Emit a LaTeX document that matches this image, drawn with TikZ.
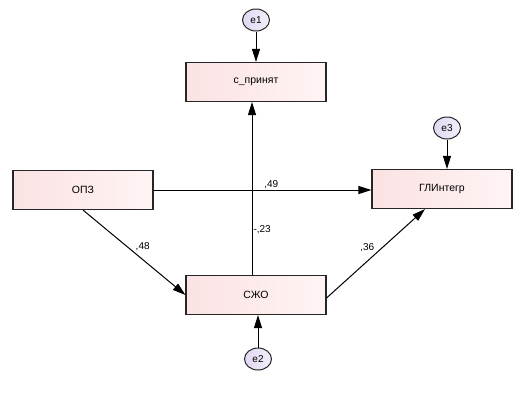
\documentclass[tikz,border=0pt]{standalone}
\usepackage{fontspec}
\setmainfont{Liberation Sans}
\usetikzlibrary{arrows.meta,calc,shapes.geometric}
\definecolor{boxl}{HTML}{FBE2E3}
\definecolor{boxr}{HTML}{FFF4F4}
\definecolor{errl}{HTML}{E2D8F2}
\definecolor{errr}{HTML}{F2EEFA}
\begin{document}
\begin{tikzpicture}[x=1pt,y=-1pt,
  varbox/.style={draw=black!85,line width=1.1pt,left color=boxl,right color=boxr,
    minimum width=140pt,minimum height=39pt,inner sep=0pt,font=\fontsize{10.5}{12}\selectfont},
  errnode/.style={draw=black!85,line width=1pt,ellipse,left color=errl,right color=errr,
    minimum width=27pt,minimum height=22pt,inner sep=0pt,font=\fontsize{10}{12}\selectfont},
  sempath/.style={draw=black,line width=1pt,-{Triangle[length=13pt,width=8pt]}},
  coef/.style={font=\fontsize{10}{12}\selectfont,inner sep=1pt}]
\useasboundingbox (0,0) rectangle (520,400);
\node[varbox] (c) at (256,82) {с\_принят};
\node[errnode] (e1) at (256,20) {e1};
\node[varbox] (o) at (83,190) {ОПЗ};
\node[varbox] (s) at (256,295) {СЖО};
\node[errnode] (e2) at (258,359) {e2};
\node[varbox] (g) at (442,189) {ГЛИнтегр};
\node[errnode] (e3) at (447,128) {e3};
\draw[sempath] (e1) -- (c);
\draw[sempath] (e3) -- (e3 |- g.north);
\draw[sempath] (e2) -- (e2 |- s.south);
\draw[sempath] ([xshift=-4pt]s.north) -- node[coef,pos=0.26,anchor=west]{-,23} ([xshift=-4pt]c.south);
\draw[sempath] (o.east) -- node[coef,pos=0.54,above]{,49} (o.east -| g.west);
\draw[sempath] (o.south) -- node[coef,pos=0.5,anchor=south west]{,48} (s.west);
\draw[sempath] ([yshift=-3pt]s.east) -- node[coef,pos=0.5,anchor=south east]{,36} ([xshift=-17pt]g.south);
\end{tikzpicture}
\end{document}
